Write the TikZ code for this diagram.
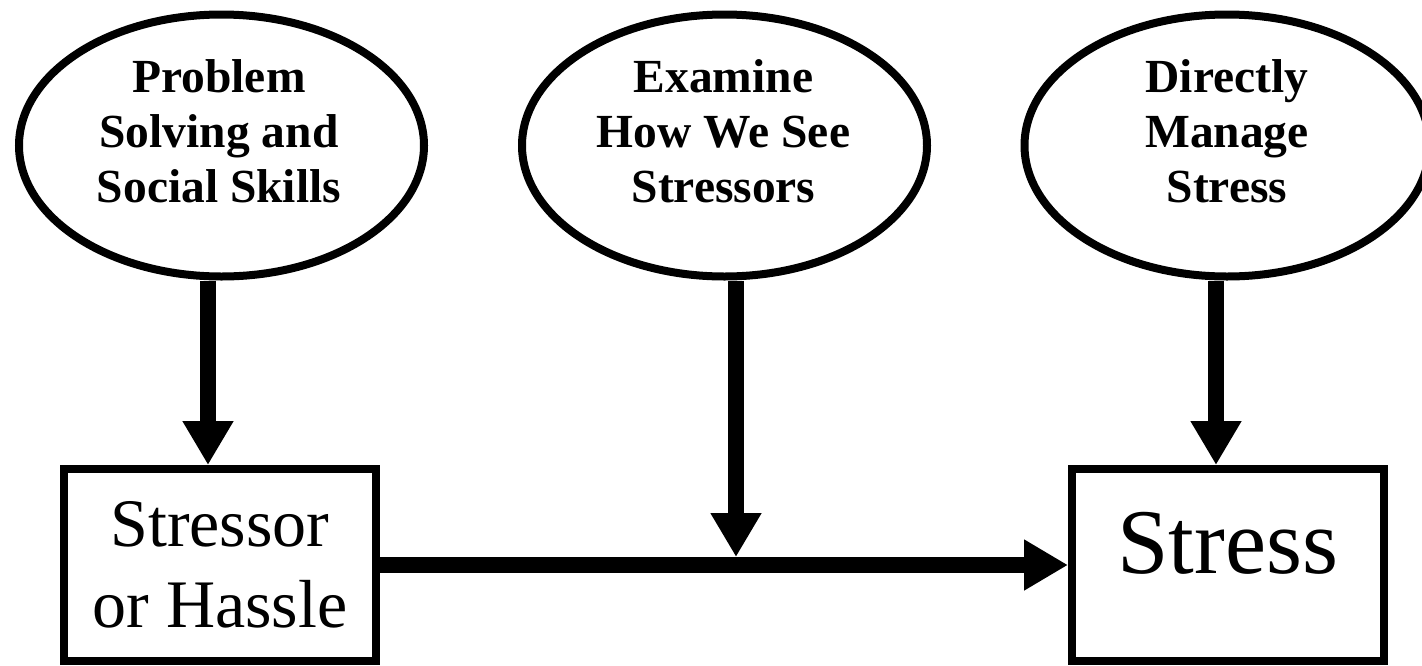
\documentclass[tikz,border=0pt]{standalone}
\usepackage{fontspec}
\setmainfont{Liberation Serif}
\usetikzlibrary{arrows.meta,shapes.geometric}
\begin{document}
\begin{tikzpicture}[x=1pt,y=-1pt,
  oval/.style={ellipse,draw,line width=8pt,minimum width=405pt,minimum height=262pt,inner sep=0pt},
  box/.style={rectangle,draw,line width=8pt,minimum width=312pt,minimum height=192pt,inner sep=0pt},
  otext/.style={align=center,font=\fontsize{47.5pt}{55pt}\selectfont\bfseries,inner sep=0pt},
  arr/.style={line width=16pt,-{Triangle[length=44pt,width=48pt]}}
]
\useasboundingbox (0,0) rectangle (1422,665);
\fill[white] (0,0) rectangle (1422,665);

\node[oval] (e1) at (221.5,145.5) {};
\node[otext] (t1) at (219,131) {Problem\\Solving and\\Social Skills};
\node[oval] (e2) at (724.5,145.5) {};
\node[otext] (t2) at (723.5,131) {Examine\\How We See\\Stressors};
\node[oval] (e3) at (1227,145.5) {};
\node[otext] (t3) at (1227,131) {Directly\\Manage\\Stress};

\node[box,align=center,font=\fontsize{68pt}{81pt}\selectfont] (r1) at (220,565) {Stressor\\or Hassle};
\node[box,font=\fontsize{92.5pt}{110pt}\selectfont,text height=66pt,text depth=49pt] (r2) at (1228,565) {Stress};

\coordinate (a1) at ([xshift=-12pt]r1.north);
\coordinate (a3) at ([xshift=-12pt]r2.north);
\coordinate (m) at (736,557);

\draw[arr] (r1.east) -- (r2.west);
\draw[arr] (e1.south -| a1) -- (a1);
\draw[arr] (e2.south -| m) -- (m);
\draw[arr] (e3.south -| a3) -- (a3);
\end{tikzpicture}
\end{document}
